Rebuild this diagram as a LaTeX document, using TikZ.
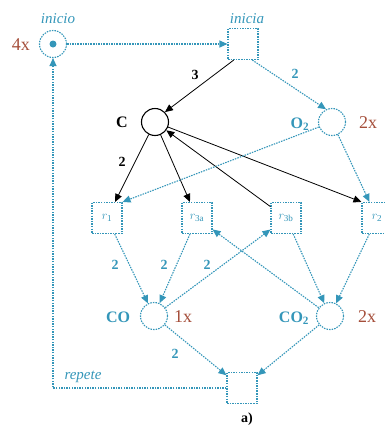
\documentclass[tikz,border=0pt]{standalone}
\usepackage{fontspec}
\setmainfont{Liberation Serif}
\usetikzlibrary{arrows.meta}
\definecolor{cy}{RGB}{52,150,185}
\definecolor{br}{RGB}{165,78,58}
\begin{document}
\begin{tikzpicture}[x=1pt,y=-1pt,
 dsh/.style={draw=cy, line width=1.1pt, dash pattern=on 1.5pt off 1.1pt},
 place/.style={circle, minimum size=27pt, inner sep=0pt},
 cplace/.style={place, dsh},
 bplace/.style={place, draw=black, line width=1.1pt},
 trans/.style={rectangle, minimum width=30pt, minimum height=31pt, inner sep=0pt, dsh},
 tip/.style={-{Triangle[length=8pt,width=7pt]}},
 carc/.style={dsh, tip, fill=none},
 barc/.style={draw=black, line width=0.8pt, tip},
 cnum/.style={font=\bfseries\fontsize{14}{14}\selectfont, text=cy},
 bnum/.style={font=\bfseries\fontsize{14}{14}\selectfont, text=black},
 cname/.style={font=\bfseries\fontsize{16}{16}\selectfont, text=cy},
 mult/.style={font=\fontsize{18}{18}\selectfont, text=br},
 ital/.style={font=\itshape\fontsize{15}{15}\selectfont, text=cy},
 rlab/.style={font=\itshape\fontsize{13}{13}\selectfont, text=cy}]
\useasboundingbox (0,0) rectangle (385,429);

% places
\node[cplace] (inicio) at (53,44) {};
\fill[cy] (inicio.center) circle (3.5pt);
\node[bplace] (C) at (155,122) {};
\node[cplace] (O2) at (332,122) {};
\node[cplace] (CO) at (154,316) {};
\node[cplace] (CO2) at (330,316) {};

% transitions
\node[trans, label={[rlab]center:$r_{\mathrm{1}}$}] (r1) at (107,218) {};
\node[trans] (inicia) at (243,44) {};
\node[trans, label={[rlab]center:$r_{\mathrm{3a}}$}] (r3a) at (197,218) {};
\node[trans, label={[rlab]center:$r_{\mathrm{3b}}$}] (r3b) at (286,218) {};
\node[trans, label={[rlab]center:$r_{\mathrm{2}}$}] (r2) at (377,218) {};
\node[trans] (rep) at (242,388) {};

% texts
\node[ital] (tinicio) at (58,19) {inicio};
\node[ital] (tinicia) at (247,19) {inicia};
\node[mult] (m4) at (21,45) {4x};
\node[font=\bfseries\fontsize{16}{16}\selectfont] (tC) at (122,122) {C};
\node[cname] (tO2) at (300,124) {O\textsubscript{2}};
\node[mult] (m2a) at (368,123) {2x};
\node[cname] (tCO) at (118,317) {CO};
\node[mult] (m1) at (183,317) {1x};
\node[cname] (tCO2) at (294,318) {CO\textsubscript{2}};
\node[mult] (m2b) at (367,317) {2x};
\node[ital] (trep) at (83,377) {repete};
\node[font=\bfseries\fontsize{14}{14}\selectfont] (ta) at (247,419) {a)};

% arcs
\draw[carc] (inicio.east) -- (inicia.west);
\draw[barc] (inicia.240) -- (C.45);
\draw[carc] (inicia.300) -- (O2.115);
\draw[barc] (C) -- (r1);
\draw[barc] (C) -- (r3a);
\draw[barc] (r3b) -- (C);
\draw[barc] (C) -- (r2.north west);
\draw[carc] (O2) -- (r1.north east);
\draw[carc] (O2) -- (r2);
\draw[carc] (r1) -- (CO);
\draw[carc] (r3a) -- (CO);
\draw[carc] (CO) -- (r3b);
\draw[carc] (CO2) -- (r3a);
\draw[carc] (r3b) -- (CO2);
\draw[carc] (r2) -- (CO2);
\draw[carc] (CO) -- (rep);
\draw[carc] (CO2) -- (rep);
\draw[carc] (rep.west) -| (inicio.south);

% arc weights
\node[bnum] (w1) at (195,75) {3};
\node[cnum] (w2) at (295,74) {2};
\node[bnum] (w3) at (122,162) {2};
\node[cnum] (w4) at (115,265) {2};
\node[cnum] (w5) at (164,265) {2};
\node[cnum] (w6) at (207,265) {2};
\node[cnum] (w7) at (175,354) {2};
\end{tikzpicture}
\end{document}
